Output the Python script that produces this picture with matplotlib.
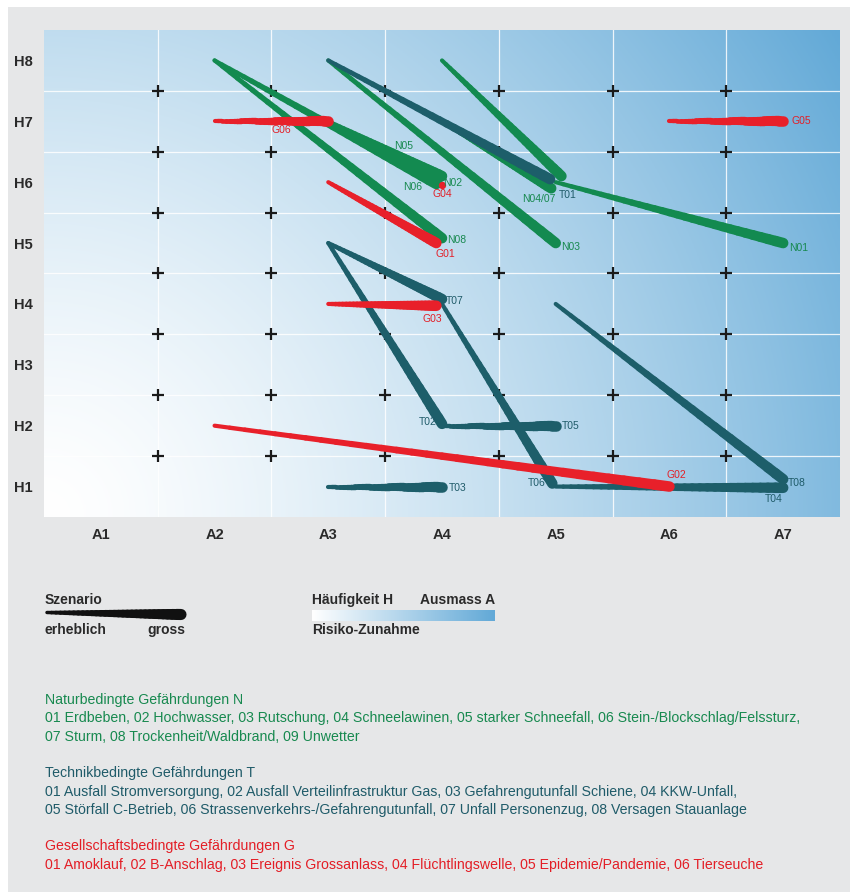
"""Risikodiagramm: Szenarien nach Haeufigkeit H und Ausmass A."""

import numpy as np
import matplotlib

matplotlib.use("Agg")
import matplotlib.pyplot as plt
from matplotlib.collections import LineCollection
from matplotlib.patches import Rectangle

plt.rcParams["font.family"] = ["Liberation Sans Narrow", "Liberation Sans", "DejaVu Sans"]

# --- data: each scenario goes from "erheblich" (thin end) to "gross" (thick end)
scenario = ["N01", "N02", "N03", "N04", "N05", "N06", "N07", "N08",
            "T01", "T02", "T03", "T04", "T05", "T06", "T07", "T08",
            "G01", "G02", "G03", "G04", "G05", "G06"]
group = ["N"] * 8 + ["T"] * 8 + ["G"] * 6
a_erheblich = [5, 3.97, 3, 4, 3, 2, 4, 2,
               3, 3, 3, 5, 4, 4, 3, 5,
               3, 2, 3, 4, 6, 2]
h_erheblich = [6, 5.98, 8, 8, 7, 8, 7, 8,
               8, 5, 1, 1, 2, 4, 5, 4,
               6, 2, 4, 5.95, 7, 7]
a_gross = [7, 3.97, 5, 5.05, 4, 3.95, 4.96, 4,
           4.95, 4, 4, 7, 5, 4.97, 4, 7,
           3.95, 6, 3.95, 4, 7, 3]
h_gross = [5, 5.98, 5, 6.1, 6.1, 5.97, 5.9, 5.08,
           6.05, 2.03, 1, 0.98, 2, 1.05, 4.08, 1.12,
           5, 1, 3.97, 5.95, 7, 7]
labels = ["N01", "N02", "N03", "", "N05", "N06", "N04/07", "N08",
          "T01", "T02", "T03", "T04", "T05", "T06", "T07", "T08",
          "G01", "G02", "G03", "G04", "G05", "G06"]

a_ticks = ["A1", "A2", "A3", "A4", "A5", "A6", "A7"]
h_ticks = ["H1", "H2", "H3", "H4", "H5", "H6", "H7", "H8"]

legend_text = [
    ("Naturbedingte Gefährdungen N", "N"),
    ("01 Erdbeben, 02 Hochwasser, 03 Rutschung, 04 Schneelawinen, 05 starker Schneefall, 06 Stein-/Blockschlag/Felssturz,", "N"),
    ("07 Sturm, 08 Trockenheit/Waldbrand, 09 Unwetter", "N"),
    ("Technikbedingte Gefährdungen T", "T"),
    ("01 Ausfall Stromversorgung, 02 Ausfall Verteilinfrastruktur Gas, 03 Gefahrengutunfall Schiene, 04 KKW-Unfall,", "T"),
    ("05 Störfall C-Betrieb, 06 Strassenverkehrs-/Gefahrengutunfall, 07 Unfall Personenzug, 08 Versagen Stauanlage", "T"),
    ("Gesellschaftsbedingte Gefährdungen G", "G"),
    ("01 Amoklauf, 02 B-Anschlag, 03 Ereignis Grossanlass, 04 Flüchtlingswelle, 05 Epidemie/Pandemie, 06 Tierseuche", "G"),
]

# --- styles
LINE_COL = {"N": "#138a50", "T": "#1d5e6a", "G": "#e8202a"}
TEXT_COL = {"N": "#17894f", "T": "#1f5b69", "G": "#e31e26"}
BG_GRAY = "#e6e7e8"
BLUE = np.array([98, 169, 215]) / 255.0
TXT = "#2a2a2a"

# label offsets in pixels (dx, dy, ha)
label_pos = {
    "N01": (6, -5, "left"), "N02": (5, 0, "left"), "N03": (5, -4, "left"),
    "N05": (-38, 30, "center"), "N06": (-24, -3, "center"),
    "N04/07": (-12, -11, "center"), "N08": (5, -2, "left"),
    "T01": (9, -16, "left"), "T02": (-5, 2, "right"), "T03": (7, -1, "left"),
    "T04": (-9, -11, "center"), "T05": (6, 0, "left"), "T06": (-7, 1, "right"),
    "T07": (4, -2, "left"), "T08": (5, -4, "left"),
    "G01": (-1, -11, "left"), "G02": (7, 12, "center"), "G03": (-4, -13, "center"),
    "G04": (0, -9, "center"), "G05": (8, 0, "left"), "G06": (-47, -9, "center"),
}

fig = plt.figure(figsize=(8.54, 8.96), dpi=100)

# overlay in pixel coordinates for background and legend
bg = fig.add_axes([0, 0, 1, 1], zorder=0)
bg.add_patch(Rectangle((8, 7), 842, 885, facecolor=BG_GRAY, edgecolor="none"))

ax = fig.add_axes([44 / 854, 1 - 517 / 896, 796 / 854, 487 / 896], zorder=1)
ax.set_xlim(0.5, 7.5)
ax.set_ylim(0.5, 8.5)

# radial gradient from the lower left corner
px, py = np.meshgrid(np.linspace(0, 796, 300), np.linspace(0, 487, 200))
t = np.clip(np.hypot(px, py) / np.hypot(796, 487), 0, 1) ** 1.4
img = (1 - t)[..., None] * np.ones(3) + t[..., None] * BLUE
ax.imshow(img, extent=(0.5, 7.5, 0.5, 8.5), origin="lower", aspect="auto", zorder=0)

# white grid between categories and crosses on intersections
for gx in np.arange(1.5, 7.0, 1.0):
    ax.axvline(gx, color="white", lw=0.9, alpha=0.85, zorder=1)
for gy in np.arange(1.5, 8.0, 1.0):
    ax.axhline(gy, color="white", lw=0.9, alpha=0.85, zorder=1)
cx, cy = np.meshgrid(np.arange(1.5, 7.0, 1.0), np.arange(1.5, 8.0, 1.0))
ax.scatter(cx.ravel(), cy.ravel(), marker="+", s=80, color="#1a1a1a", linewidths=1.6, zorder=2)

ax.set_xticks(range(1, 8))
ax.set_xticklabels(a_ticks)
ax.set_yticks(range(1, 9))
ax.set_yticklabels(h_ticks)
ax.tick_params(length=0, labelsize=10.5, labelcolor=TXT, pad=8)
for lab in ax.get_xticklabels() + ax.get_yticklabels():
    lab.set_fontweight("bold")
for s in ax.spines.values():
    s.set_visible(False)


def tapered(axis, x0, y0, x1, y1, color, w0=3.0, w1=7.6, z=3, n=30):
    xs = np.linspace(x0, x1, n + 1)
    ys = np.linspace(y0, y1, n + 1)
    segs = np.stack([np.column_stack([xs[:-1], ys[:-1]]),
                     np.column_stack([xs[1:], ys[1:]])], axis=1)
    lc = LineCollection(segs, linewidths=np.linspace(w0, w1, n), colors=color,
                        capstyle="round", zorder=z)
    axis.add_collection(lc)


zorder_grp = {"N": 3, "T": 4, "G": 5}
for i, name in enumerate(scenario):
    g = group[i]
    if a_erheblich[i] == a_gross[i] and h_erheblich[i] == h_gross[i]:
        ax.scatter([a_gross[i]], [h_gross[i]], s=18, color=LINE_COL[g], zorder=6)
    else:
        tapered(ax, a_erheblich[i], h_erheblich[i], a_gross[i], h_gross[i],
                LINE_COL[g], z=zorder_grp[g])
    lab = labels[i]
    if lab:
        dx, dy, ha = label_pos[lab]
        ax.annotate(lab, (a_gross[i], h_gross[i]), xytext=(dx, dy),
                    textcoords="offset pixels", ha=ha, va="center",
                    fontsize=7.5, color=TEXT_COL[g], zorder=7)

# --- legend: Szenario
bg.text(45, 600, "Szenario", fontsize=10, fontweight="bold", color=TXT, va="center")
xs = np.linspace(47, 181, 31)
ys = np.linspace(612.5, 614.5, 31)
segs = np.stack([np.column_stack([xs[:-1], ys[:-1]]), np.column_stack([xs[1:], ys[1:]])], axis=1)
bg.add_collection(LineCollection(segs, linewidths=np.linspace(2.5, 8, 30), colors="#111111",
                                 capstyle="round"))
bg.text(45, 630, "erheblich", fontsize=10, fontweight="bold", color=TXT, va="center")
bg.text(147, 630, "gross", fontsize=10, fontweight="bold", color=TXT, va="center")

# legend: gradient bar
bar = np.linspace(0, 1, 200)[None, :, None]
bar_img = (1 - bar) * np.ones(3) + bar * BLUE
bg.imshow(bar_img, extent=(312, 495, 621, 610), aspect="auto", zorder=1)
bg.text(312, 600, "Häufigkeit H", fontsize=10, fontweight="bold", color=TXT, va="center")
bg.text(495, 600, "Ausmass A", fontsize=10, fontweight="bold", color=TXT, va="center", ha="right")
bg.text(312, 630, "Risiko-Zunahme", fontsize=10, fontweight="bold", color=TXT, va="center")
bg.set_xlim(0, 854)
bg.set_ylim(896, 0)
bg.axis("off")

# legend: scenario categories
y_rows = [700, 718, 737, 773, 792, 810, 846, 865]
for (txt, g), yy in zip(legend_text, y_rows):
    bg.text(45, yy, txt, fontsize=10.2, color=TEXT_COL[g], va="center")

fig.savefig("out.png", dpi=100)
